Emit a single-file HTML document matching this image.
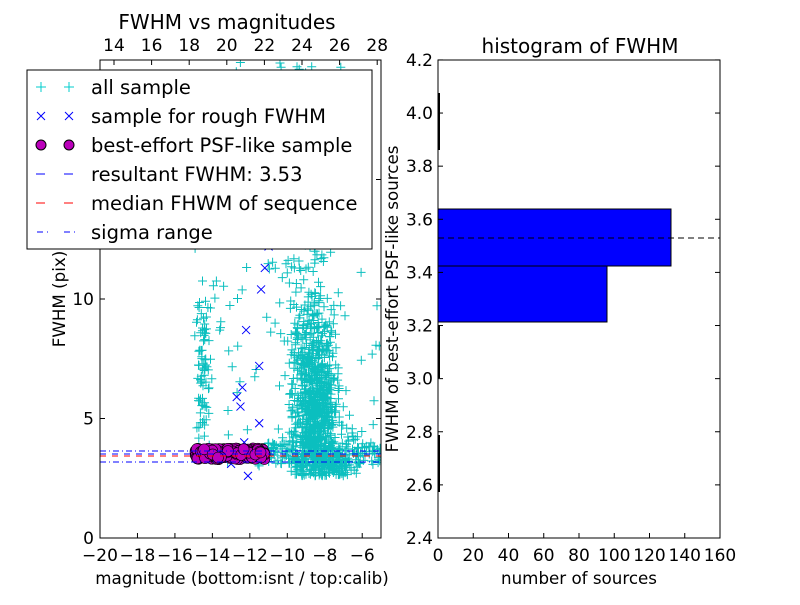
<!DOCTYPE html>
<html><head><style>
body{margin:0;background:#fff}
svg text{font-family:"DejaVu Sans","Liberation Sans",sans-serif}
</style></head><body>
<svg id="s" width="800" height="600" xmlns="http://www.w3.org/2000/svg">
<rect width="800" height="600" fill="#fff"/>
<defs><clipPath id="c1"><rect x="100" y="60" width="281" height="478"/></clipPath></defs>
<g id="pts" clip-path="url(#c1)"></g>
<g clip-path="url(#c1)">
<line x1="100" y1="451" x2="381" y2="451" stroke="#00f" stroke-dasharray="6,3,1,3"/>
<line x1="100" y1="462" x2="381" y2="462" stroke="#00f" stroke-dasharray="6,3,1,3"/>
<line x1="100" y1="456" x2="381" y2="456" stroke="#f00" stroke-dasharray="6,6"/>
<line x1="100" y1="454" x2="381" y2="454" stroke="#00f" stroke-dasharray="6,6"/>
</g>
<rect x="100" y="60" width="281" height="478" fill="none" stroke="#000"/>
<g id="lt" stroke="#000"></g>
<g font-size="17" fill="#000" id="ltx"></g>
<text x="227" y="29" font-size="20" text-anchor="middle">FWHM vs magnitudes</text>
<text x="242" y="584" font-size="16.7" text-anchor="middle">magnitude (bottom:isnt / top:calib)</text>
<text x="65" y="299" font-size="16.7" text-anchor="middle" transform="rotate(-90 65 299)">FWHM (pix)</text>
<rect x="27" y="70" width="345" height="179" fill="#fff" stroke="#000"/>
<g font-size="19.5">
<text x="91" y="94">all sample</text>
<text x="91" y="123">sample for rough FWHM</text>
<text x="91" y="152">best-effort PSF-like sample</text>
<text x="91" y="181">resultant FWHM: 3.53</text>
<text x="91" y="210">median FHWM of sequence</text>
<text x="91" y="239">sigma range</text>
</g>
<g stroke-width="1">
<path d="M36 87h10M41 82v10M64 87h10M69 82v10" stroke="#0cc"/>
<path d="M37 112l8 8M45 112l-8 8M65 112l8 8M73 112l-8 8" stroke="#00f"/>
<circle cx="41" cy="145" r="5" fill="#b0b" stroke="#000"/><circle cx="69" cy="145" r="5" fill="#b0b" stroke="#000"/>
<path d="M36 174h9M64 174h9" stroke="#00f"/>
<path d="M36 203h9M64 203h9" stroke="#f00"/>
<path d="M37 232h6M47 232h1M64 232h6M74 232h1" stroke="#00f"/>
</g>
<rect x="438" y="209" width="233" height="57" fill="#00f" stroke="#000"/>
<rect x="438" y="266" width="169" height="56" fill="#00f" stroke="#000"/>
<line x1="438" y1="238" x2="720" y2="238" stroke="#000" stroke-dasharray="6,4"/>
<path d="M439 93v57M439 325v53M439 435v57" stroke="#000" stroke-width="2"/>
<rect x="438" y="60" width="282" height="478" fill="none" stroke="#000"/>
<g id="rt" stroke="#000"></g>
<g font-size="17" id="rtx"></g>
<text x="580" y="53" font-size="20" text-anchor="middle">histogram of FWHM</text>
<text x="579" y="584" font-size="16.7" text-anchor="middle">number of sources</text>
<text x="398" y="299" font-size="16.7" text-anchor="middle" transform="rotate(-90 398 299)">FWHM of best-effort PSF-like sources</text>
</svg>
<script>
var N="http://www.w3.org/2000/svg";
function el(p,t,a,tx){var e=document.createElementNS(N,t);for(var k in a)e.setAttribute(k,a[k]);if(tx!=null)e.textContent=tx;document.getElementById(p).appendChild(e);return e;}
for(var v=-20;v<=-6;v+=2){var x=100+(v+20)*18.73;el('lt','line',{x1:x,y1:538,x2:x,y2:533});el('ltx','text',{x:x,y:561,'text-anchor':'middle'},'\u2212'+(-v));}
for(var v=0;v<=20;v+=5){var y=538-v*23.9;el('lt','line',{x1:100,y1:y,x2:105,y2:y});el('lt','line',{x1:381,y1:y,x2:376,y2:y});if(v<20)el('ltx','text',{x:94,y:y+6,'text-anchor':'end'},v);}
for(var v=14;v<=28;v+=2){var x=114+(v-14)*18.8;el('lt','line',{x1:x,y1:60,x2:x,y2:65});el('ltx','text',{x:x,y:51,'text-anchor':'middle'},v);}
for(var i=0;i<=9;i++){var v=2.4+i*0.2,y=538-i*0.2*265.6;el('rt','line',{x1:438,y1:y,x2:443,y2:y});el('rt','line',{x1:720,y1:y,x2:715,y2:y});el('rtx','text',{x:433,y:y+6,'text-anchor':'end'},v.toFixed(1));}
for(var v=0;v<=160;v+=20){var x=438+v*1.7625;el('rt','line',{x1:x,y1:538,x2:x,y2:533});el('rtx','text',{x:x,y:561,'text-anchor':'middle'},v);}
var sd=12345;function r(){sd=(sd*1103515245+12345)%2147483648;return sd/2147483648;}
function g(){return (r()+r()+r()+r()-2)*0.87;}
var d="";function P(m,f){var x=100+(m+20)*18.73,y=538-f*23.9;d+="M"+(x-4.5).toFixed(1)+" "+y.toFixed(1)+"h9M"+x.toFixed(1)+" "+(y-4.5).toFixed(1)+"v9";}
for(var i=0;i<700;i++){var m=-8.5+g()*1.2,f=2.8+Math.abs(g())*4.5+r()*2.5;P(m,f);}
for(var i=0;i<250;i++){P(-8+g()*1.8,2.6+Math.abs(g())*1.8);}
for(var i=0;i<150;i++){P(-11+r()*6,3.1+r()*0.9);}
for(var i=0;i<200;i++){P(-9+g()*1.6,7+r()*13);}
for(var i=0;i<70;i++){P(-14.5+g()*0.5,4.5+r()*5.5);}
for(var i=0;i<130;i++){P(-15+r()*10,3+r()*17);}
el('pts','path',{d:d,stroke:'#0bbfbf','stroke-width':1,fill:'none'});
var xs=[[-12.3,4],[-13,3.1],[-12.1,2.6],[-11.5,4.8],[-12.5,5.5],[-12.7,5.9],[-12.4,6.3],[-12.2,8.7],[-11.5,7.2],[-11.4,10.4],[-12,12.3],[-11.2,11.3],[-11,12.2],[-12.1,13.6],[-11.4,13.3],[-12.8,14.1],[-11.3,14.6],[-13,15]];
var xd="";xs.forEach(function(p){var x=100+(p[0]+20)*18.73,y=538-p[1]*23.9;xd+="M"+(x-4)+" "+(y-4)+"l8 8M"+(x+4)+" "+(y-4)+"l-8 8";});
el('pts','path',{d:xd,stroke:'#00f',fill:'none'});
for(var i=0;i<200;i++){var m=-14.9+r()*3.7,f=3.3+r()*0.45;el('pts','circle',{cx:100+(m+20)*18.73,cy:538-f*23.9,r:5.5,fill:'#b0b',stroke:'#000','stroke-width':0.6});}
</script>
</body></html>
